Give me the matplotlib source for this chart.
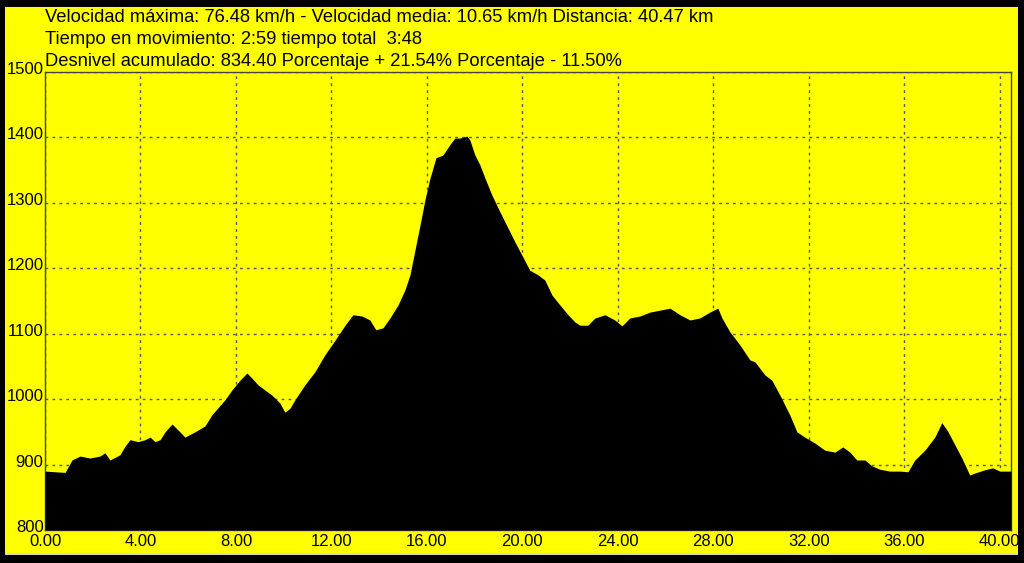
import matplotlib.pyplot as plt
import matplotlib.transforms as mtransforms
from matplotlib.patches import Rectangle

# elevation profile (km, m)
dist_km = [0.00, 0.84, 1.13, 1.47, 1.88, 2.30, 2.51, 2.72, 3.14, 3.35, 3.56, 3.90, 4.19, 4.40,
           4.61, 4.82, 5.03, 5.32, 5.57, 5.86, 6.28, 6.70, 6.99, 7.25, 7.54, 7.83, 8.17, 8.46,
           8.67, 8.92, 9.21, 9.51, 9.84, 10.05, 10.26, 10.47, 10.89, 11.31, 11.73, 12.15, 12.57,
           12.90, 13.28, 13.61, 13.86, 14.16, 14.45, 14.79, 15.08, 15.29, 15.50, 15.71, 15.92,
           16.13, 16.38, 16.67, 16.96, 17.17, 17.38, 17.68, 17.80, 18.01, 18.22, 18.43, 18.72,
           19.06, 19.39, 19.69, 19.98, 20.31, 20.65, 20.94, 21.24, 21.57, 21.91, 22.20, 22.41,
           22.74, 23.04, 23.46, 23.87, 24.17, 24.50, 24.92, 25.34, 25.76, 26.18, 26.60, 27.02,
           27.43, 27.85, 28.19, 28.36, 28.69, 29.11, 29.53, 29.74, 30.16, 30.45, 30.79, 31.20,
           31.50, 31.83, 32.25, 32.67, 33.09, 33.42, 33.72, 34.01, 34.35, 34.64, 34.97, 35.39,
           35.81, 36.15, 36.44, 36.86, 37.28, 37.57, 37.82, 38.12, 38.41, 38.74, 38.95, 39.37,
           39.71, 40.00, 40.47]
elev_m = [890, 888, 907, 913, 910, 913, 918, 907, 915, 928, 938, 935, 938, 942,
          935, 938, 950, 962, 953, 942, 950, 959, 976, 987, 999, 1014, 1029, 1040,
          1032, 1022, 1014, 1006, 994, 980, 986, 999, 1022, 1042, 1068, 1090, 1113,
          1129, 1127, 1121, 1106, 1109, 1124, 1144, 1167, 1190, 1228, 1266, 1305,
          1338, 1369, 1373, 1389, 1399, 1399, 1402, 1396, 1373, 1358, 1338, 1312,
          1286, 1262, 1240, 1220, 1197, 1190, 1182, 1159, 1144, 1129, 1118, 1113,
          1113, 1124, 1129, 1121, 1112, 1124, 1127, 1133, 1136, 1139, 1129, 1121,
          1124, 1133, 1139, 1124, 1103, 1083, 1060, 1057, 1037, 1029, 1006, 976,
          950, 942, 933, 922, 919, 927, 919, 907, 907, 898, 893, 890,
          890, 889, 907, 922, 942, 964, 951, 930, 910, 884, 887, 892,
          895, 890, 890]

x_ticks = [0, 4, 8, 12, 16, 20, 24, 28, 32, 36, 40]
y_ticks = [800, 900, 1000, 1100, 1200, 1300, 1400, 1500]

info_lines = [
    "Velocidad máxima: 76.48 km/h - Velocidad media: 10.65 km/h Distancia: 40.47 km",
    "Tiempo en movimiento: 2:59 tiempo total  3:48",
    "Desnivel acumulado: 834.40 Porcentaje + 21.54% Porcentaje - 11.50%",
]

plt.rcParams['font.family'] = ['Liberation Sans', 'DejaVu Sans']

W, H = 1024, 563
fig = plt.figure(figsize=(W / 100, H / 100), dpi=100, facecolor='black')
# yellow panel inside the black frame, thin light edge at the bottom
fig.patches.append(Rectangle((5 / W, 1 - 555 / H), 1013 / W, 2 / H,
                             transform=fig.transFigure, facecolor='#d8d8d0',
                             edgecolor='none', zorder=-2))
fig.patches.append(Rectangle((5 / W, 1 - 553 / H), 1013 / W, 546 / H,
                             transform=fig.transFigure, facecolor='#ffff00',
                             edgecolor='none', zorder=-1))

ax = fig.add_axes([45 / W, 1 - 530 / H, 966 / W, 458 / H])
ax.set_zorder(2)
ax.set_facecolor('#ffff00')
ax.fill_between(dist_km, elev_m, 800, color='black', linewidth=0, zorder=3)

ax.set_xlim(0, 40.47)
ax.set_ylim(800, 1500)
ax.set_xticks(x_ticks)
ax.set_xticklabels(['%.2f' % v for v in x_ticks])
ax.set_yticks(y_ticks)
ax.set_yticklabels([str(v) for v in y_ticks])
ax.tick_params(length=0, labelsize=12, colors='black')
ax.tick_params(axis='x', pad=3)
ax.tick_params(axis='y', pad=1)
shift_up = mtransforms.ScaledTranslation(0, 4 / 100, fig.dpi_scale_trans)
for lab in ax.get_yticklabels():
    lab.set_transform(lab.get_transform() + shift_up)
ax.grid(True, color='#555555', linestyle=(0, (2, 3)), linewidth=1, zorder=1)
ax.set_axisbelow(True)
for sp in ax.spines.values():
    sp.set_color('#444444')
    sp.set_linewidth(1)

for i, line in enumerate(info_lines):
    fig.text(45 / W, 1 - (17 + 22 * i) / H, line, fontsize=13.2, color='black',
             va='center', ha='left', zorder=3)

fig.savefig('out.png', dpi=100, facecolor=fig.get_facecolor())
